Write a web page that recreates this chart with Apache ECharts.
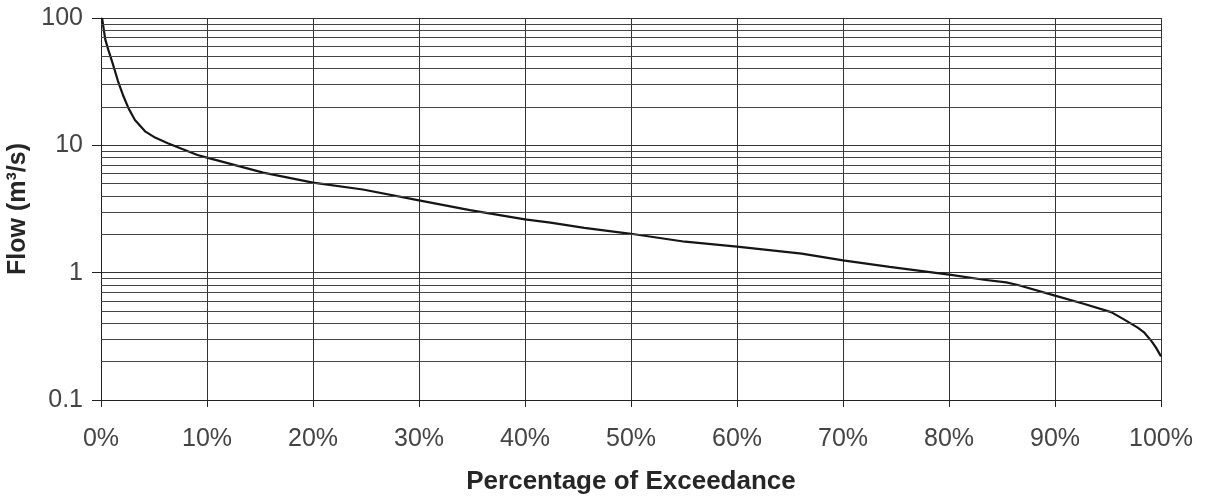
<!DOCTYPE html>
<html>
<head>
<meta charset="utf-8">
<script src="https://cdn.jsdelivr.net/npm/echarts@6/dist/echarts.min.js"></script>
<style>
  html, body { margin: 0; padding: 0; background: #fff; }
  #chart { width: 1207px; height: 498px; }
</style>
</head>
<body>
<div id="chart"></div>
<script>
// Flow duration curve: percentage of time each flow is equalled or exceeded
const exceedancePct = [0.1, 0.4, 0.7, 1.1, 1.6, 2.1, 2.6, 3.2, 4.2, 5.1, 6.3, 7.9, 9.1, 10, 15.3, 20, 24.7, 30, 34.8, 40, 42.4, 45.6, 50, 55.1, 60, 66.1, 70, 74.4, 80.2, 83.3, 85.4, 86.5, 90, 92.7, 95.3, 96.5, 97.8, 98.4, 99.1, 99.5, 100];
const flowM3s = [100, 68, 56, 44, 32, 24.5, 19.5, 15.8, 12.8, 11.5, 10.4, 9.2, 8.4, 8.0, 6.1, 5.1, 4.5, 3.7, 3.1, 2.62, 2.47, 2.25, 2.02, 1.75, 1.6, 1.41, 1.25, 1.11, 0.96, 0.88, 0.84, 0.8, 0.66, 0.57, 0.49, 0.43, 0.37, 0.34, 0.29, 0.26, 0.22];

// Intermediate log-scale gridlines (2..9 within each decade)
const minorGridValues = [
  0.2, 0.3, 0.4, 0.5, 0.6, 0.7, 0.8, 0.9,
  2, 3, 4, 5, 6, 7, 8, 9,
  20, 30, 40, 50, 60, 70, 80, 90
];

const xTickLabels = ['0%', '10%', '20%', '30%', '40%', '50%', '60%', '70%', '80%', '90%', '100%'];

const points = exceedancePct.map((p, i) => [p, flowM3s[i]]);

const chart = echarts.init(document.getElementById('chart'), null, { renderer: 'canvas' });
const font = 'Arial, "Liberation Sans", sans-serif';

chart.setOption({
  animation: false,
  backgroundColor: '#ffffff',
  grid: { left: 101, right: 46, top: 18, bottom: 98, containLabel: false, outerBoundsMode: 'none' },
  xAxis: {
    type: 'value',
    min: 0,
    max: 100,
    interval: 10,
    name: 'Percentage of Exceedance',
    nameLocation: 'middle',
    nameGap: 69,
    nameTextStyle: { fontFamily: font, fontSize: 26, fontWeight: 'bold', color: '#262626' },
    axisLine: { show: true, lineStyle: { color: '#222', width: 1 } },
    axisTick: { show: true, length: 7, lineStyle: { color: '#222' } },
    axisLabel: {
      margin: 27,
      fontFamily: font,
      fontSize: 25,
      color: '#444',
      formatter: v => xTickLabels[Math.round(v / 10)]
    },
    splitLine: { show: true, lineStyle: { color: '#333', width: 1 } }
  },
  yAxis: {
    type: 'log',
    logBase: 10,
    min: 0.1,
    max: 100,
    name: 'Flow (m³/s)',
    nameLocation: 'middle',
    nameGap: 66,
    nameTextStyle: { fontFamily: font, fontSize: 25, fontWeight: 'bold', color: '#262626' },
    axisLine: { show: true, lineStyle: { color: '#222', width: 1 } },
    axisTick: { show: true, length: 9, lineStyle: { color: '#222' } },
    axisLabel: {
      margin: 18,
      fontFamily: font,
      fontSize: 25,
      color: '#444',
      formatter: v => String(+v.toPrecision(3))
    },
    splitLine: { show: true, lineStyle: { color: '#333', width: 1 } }
  },
  series: [{
    type: 'line',
    data: points,
    showSymbol: false,
    smooth: false,
    lineStyle: { color: '#151515', width: 2.2 },
    markLine: {
      silent: true,
      symbol: 'none',
      label: { show: false },
      lineStyle: { color: '#444', width: 1, type: 'solid' },
      data: minorGridValues.map(v => ({ yAxis: v }))
    },
    z: 3
  }]
});
</script>
</body>
</html>
